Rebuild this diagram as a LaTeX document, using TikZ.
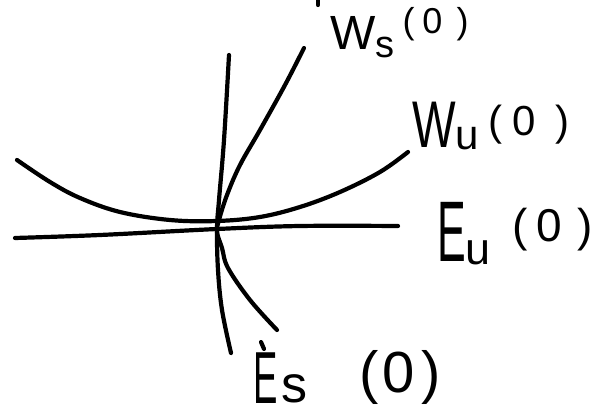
\documentclass[tikz,border=0pt]{standalone}
\usepackage{fontspec}
\setmainfont{Liberation Sans}
\begin{document}
\begin{tikzpicture}[x=1pt,y=-1pt,
  stroke/.style={line width=4.2pt,line cap=round,line join=round},
  lab/.style={inner sep=0pt,anchor=base west}]
\useasboundingbox (0,0) rectangle (614,414);
% curves
\draw[stroke] plot[smooth,tension=0.6] coordinates {(15,238) (100,235) (217,229) (300,226) (398,226)};
\draw[stroke] plot[smooth,tension=0.6] coordinates {(229,55) (224,140) (219,200) (217,229) (218,270) (222,310) (231,353)};
\draw[stroke] plot[smooth,tension=0.6] coordinates {(17,160) (50,182) (80,198) (120,212) (170,220) (217,221) (260,217) (300,207) (340,192) (380,172) (408,152)};
\draw[stroke] plot[smooth,tension=0.6] coordinates {(304,48) (285,85) (260,130) (240,165) (227,195) (219,220) (217,232) (222,248) (228,268) (250,300) (277,330)};
% small stray strokes
\draw[stroke] (318,0) -- (318,5);
\draw[stroke] (261,342) -- (264,349);
% labels
\node[lab] (ws) at (330,50) {\fontsize{48}{48}\selectfont W\raisebox{-8pt}{\fontsize{38}{38}\selectfont s}\hspace{8pt}\raisebox{16pt}{\fontsize{36}{36}\selectfont (\hspace{8pt}0\hspace{14pt})}};
\node[lab] (wu) at (412,148) {\scalebox{0.7}[1]{\fontsize{66}{66}\selectfont W}\raisebox{-2pt}{\fontsize{42}{42}\selectfont u}\hspace{9pt}\raisebox{12pt}{\fontsize{42}{42}\selectfont (\hspace{10pt}0\hspace{20pt})}};
\node[lab] (eu) at (437,262) {\scalebox{0.5}[1]{\fontsize{86}{86}\selectfont E}\raisebox{-3pt}{\fontsize{45}{45}\selectfont u}\hspace{22pt}\raisebox{20pt}{\fontsize{46}{46}\selectfont (\hspace{8pt}0\hspace{16pt})}};
\node[lab] (es) at (253,403) {\scalebox{0.62}[1.25]{\fontsize{59}{59}\selectfont E}\hspace{4pt}\raisebox{1pt}{\fontsize{52}{52}\selectfont s}\hspace{52pt}\raisebox{10pt}{\fontsize{58}{58}\selectfont (\hspace{4pt}0\hspace{6pt})}};
\end{tikzpicture}
\end{document}
